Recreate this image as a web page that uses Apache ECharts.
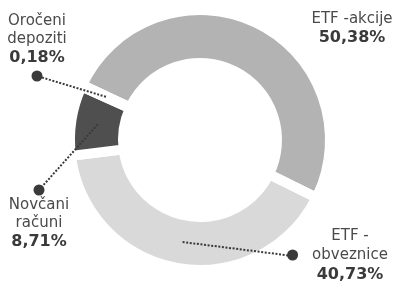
<!DOCTYPE html>
<html>
<head>
<meta charset="utf-8">
<script src="https://cdn.jsdelivr.net/npm/echarts@6/dist/echarts.min.js"></script>
<style>
html, body { margin: 0; padding: 0; background: #fff; }
#chart { width: 393px; height: 285px; }
</style>
</head>
<body>
<div id="chart"></div>
<script>

// data
const names = ['ETF -akcije', 'ETF -\nobveznice', 'Novčani\nračuni', 'Oročeni\ndepoziti'];
const shares = [50.38, 40.73, 8.71, 0.18];
const shareLabels = ['50,38%', '40,73%', '8,71%', '0,18%'];

const colors = ['#b3b3b3', '#d9d9d9', '#4f4f4f', '#9a9a9a'];

// label placement (x,y = anchor of the text block, dot = end of the dotted line)
const labelSpots = [
   { x: 352, y: 10,  va: 'top' },
   { x: 350, y: 256, va: 'middle', dot: [293, 256] },
   { x: 39,  y: 184, va: 'top',    dot: [39, 190] },
   { x: 37,  y: 84,  va: 'bottom', dot: [37, 76] },
];

function labelText(i)
{
   if (i == 0) return '{n|ETF -akcije}\n{p|' + shareLabels[0] + '}';
   if (i == 1) return '{n|ETF -}\n{dot|}{gap|}{n|obveznice}{sp|}\n{p|' + shareLabels[1] + '}';
   if (i == 2) return '{dotT|}\n{n|Novčani}\n{n|računi}\n{p|' + shareLabels[2] + '}';
   return '{n|Oročeni}\n{n|depoziti}\n{p|' + shareLabels[3] + '}\n{dotB|}';
}

const chart = echarts.init(document.getElementById('chart'));

const pieData = [];
for (var i = 0; i < shares.length; i++)
{
   pieData.push({
      name: names[i],
      value: shares[i],
      itemStyle: { color: colors[i] },
   });
}

const dotStyle = { width: 11, height: 11, backgroundColor: '#3a3a3a', borderRadius: 5.5 };

chart.setOption({
   animation: false,
   series: [
   {
      type: 'pie',
      center: [200, 140],
      radius: [77, 130],
      startAngle: 155,
      clockwise: true,
      avoidLabelOverlap: false,
      silent: true,
      itemStyle: { borderColor: '#ffffff', borderWidth: 10 },
      label:
      {
         show: true,
         position: 'outside',
         align: 'center',
         formatter: function (p) { return labelText(p.dataIndex); },
         rich:
         {
            n: { fontFamily: 'DejaVu Sans', fontSize: 15, color: '#4a4a4a', lineHeight: 18, align: 'center' },
            p: { fontFamily: 'DejaVu Sans', fontSize: 16, fontWeight: 'bold', color: '#3a3a3a', lineHeight: 20, align: 'center' },
            dot: Object.assign({ lineHeight: 19 }, dotStyle),
            dotT: Object.assign({ lineHeight: 12 }, dotStyle),
            dotB: Object.assign({ lineHeight: 16 }, dotStyle),
            gap: { width: 14, height: 11 },
            sp: { width: 25, height: 11 },
         },
      },
      labelLine: { show: false },
      labelLayout: function (params)
      {
         const spot = labelSpots[params.dataIndex];
         return { x: spot.x, y: spot.y, align: 'center', verticalAlign: spot.va };
      },
      emphasis: { disabled: true },
      data: pieData,
   }],
});

// dotted lines: from the middle of the ring (slice mid angle) to the label dot
const pieLayout = chart.getModel().getSeriesByIndex(0).getData();
const lines = [];
for (var i = 0; i < labelSpots.length; i++)
{
   if (!labelSpots[i].dot) continue;
   const lay = pieLayout.getItemLayout(i);
   const mid = (lay.startAngle + lay.endAngle) / 2;
   const rm = (lay.r0 + lay.r) / 2;
   lines.push({
      type: 'polyline',
      z: 100,
      silent: true,
      shape: { points: [[lay.cx + rm * Math.cos(mid), lay.cy + rm * Math.sin(mid)], labelSpots[i].dot] },
      style: { stroke: '#3a3a3a', lineWidth: 2, lineDash: [2, 1.6], fill: null },
   });
}
chart.setOption({ graphic: lines });

</script>
</body>
</html>
